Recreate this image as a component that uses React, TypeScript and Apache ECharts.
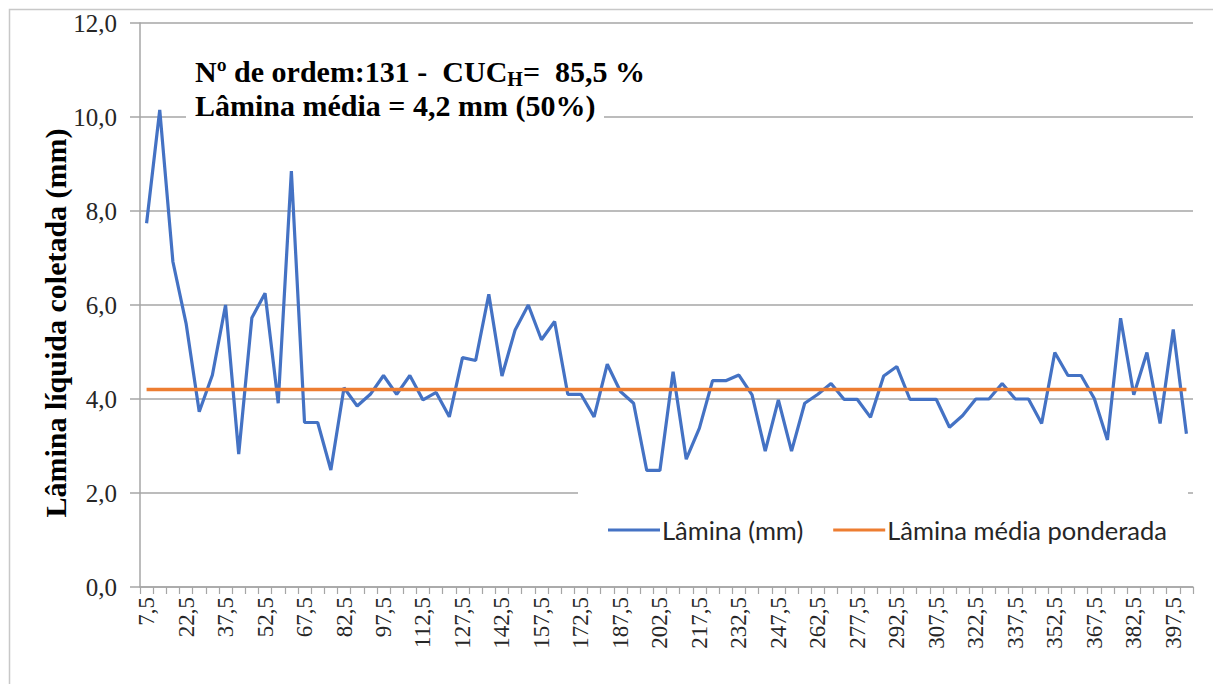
import React, { useEffect, useRef } from "react";
import * as echarts from "echarts";

const categories: string[] = [
  "7,5", "12,5", "17,5", "22,5", "27,5", "32,5", "37,5", "42,5", "47,5", "52,5",
  "57,5", "62,5", "67,5", "72,5", "77,5", "82,5", "87,5", "92,5", "97,5", "102,5",
  "107,5", "112,5", "117,5", "122,5", "127,5", "132,5", "137,5", "142,5", "147,5", "152,5",
  "157,5", "162,5", "167,5", "172,5", "177,5", "182,5", "187,5", "192,5", "197,5", "202,5",
  "207,5", "212,5", "217,5", "222,5", "227,5", "232,5", "237,5", "242,5", "247,5", "252,5",
  "257,5", "262,5", "267,5", "272,5", "277,5", "282,5", "287,5", "292,5", "297,5", "302,5",
  "307,5", "312,5", "317,5", "322,5", "327,5", "332,5", "337,5", "342,5", "347,5", "352,5",
  "357,5", "362,5", "367,5", "372,5", "377,5", "382,5", "387,5", "392,5", "397,5", "402,5",
];

const lamina: number[] = [
  7.74, 10.15, 6.92, 5.61, 3.73, 4.51, 6.0, 2.83, 5.73, 6.25,
  3.91, 8.85, 3.5, 3.5, 2.49, 4.24, 3.85, 4.1, 4.5, 4.1,
  4.5, 3.98, 4.14, 3.62, 4.88, 4.82, 6.23, 4.49, 5.47, 6.0,
  5.26, 5.65, 4.1, 4.1, 3.62, 4.74, 4.16, 3.91, 2.48, 2.48,
  4.58, 2.72, 3.38, 4.39, 4.39, 4.51, 4.09, 2.89, 3.98, 2.89,
  3.91, 4.1, 4.33, 3.99, 3.99, 3.61, 4.49, 4.69, 3.99, 3.99,
  3.99, 3.4, 3.65, 4.0, 4.0, 4.33, 4.0, 4.0, 3.48, 4.99,
  4.5, 4.5, 4.01, 3.13, 5.72, 4.09, 4.99, 3.48, 5.48, 3.26,
];

const laminaMedia = 4.2;
const mediaPonderada: number[] = categories.map(() => laminaMedia);

const yTicks = { min: 0, max: 12, interval: 2 };

export default function App() {
  const ref = useRef<HTMLDivElement>(null);

  useEffect(() => {
    document.body.style.margin = "0";
    if (!ref.current) return;
    const chart = echarts.init(ref.current, undefined, { renderer: "svg" });
    const serif = "Liberation Serif";
    const gridColor = "#a6a6a6";
    chart.setOption({
      animation: false,
      backgroundColor: "#ffffff",
      grid: { left: 140, right: 20, top: 23, bottom: 97, containLabel: false },
      legend: {
        left: 603,
        top: 512,
        itemWidth: 52,
        itemHeight: 3,
        itemGap: 30,
        icon: "rect",
        textStyle: { fontFamily: "Lato", fontSize: 25.5, color: "#262626", padding: [0, 0, 0, -3] },
        data: ["Lâmina (mm)", "Lâmina média ponderada"],
      },
      xAxis: {
        type: "category",
        data: categories,
        boundaryGap: true,
        axisLine: { lineStyle: { color: gridColor, width: 1.5 } },
        axisTick: { show: true, interval: 0, length: 7, lineStyle: { color: gridColor, width: 1.2 } },
        axisLabel: {
          interval: 2,
          rotate: 90,
          margin: 10,
          fontFamily: serif,
          fontSize: 23,
          color: "#262626",
        },
        splitLine: { show: false },
      },
      yAxis: {
        type: "value",
        min: yTicks.min,
        max: yTicks.max,
        interval: yTicks.interval,
        axisLine: { show: true, lineStyle: { color: gridColor, width: 1.5 } },
        axisTick: { show: true, length: 10, lineStyle: { color: gridColor, width: 1.5 } },
        axisLabel: {
          margin: 23,
          fontFamily: serif,
          fontSize: 25,
          color: "#262626",
          formatter: (v: number) => v.toFixed(1).replace(".", ","),
        },
        splitLine: { show: true, lineStyle: { color: gridColor, width: 1.5 } },
      },
      graphic: [
        {
          type: "rect",
          left: 7,
          top: 7,
          shape: { x: 0, y: 0, width: 1220, height: 700 },
          style: { fill: "none", stroke: "#c8c8c8", lineWidth: 1.5 },
          silent: true,
          z: 0,
        },
        {
          type: "rect",
          shape: { x: 186, y: 40, width: 418, height: 90 },
          style: { fill: "#ffffff" },
          silent: true,
          z: 1,
        },
        {
          type: "rect",
          shape: { x: 578, y: 478, width: 610, height: 95 },
          style: { fill: "#ffffff" },
          silent: true,
          z: 1,
        },
        {
          type: "text",
          x: 195,
          y: 54,
          z: 3,
          style: {
            text: "{a|Nº de ordem:131 -  CUC}{sub|H}{a|=  85,5 %}\n{a|Lâmina média = 4,2 mm (50%)}",
            fontFamily: serif,
            fontWeight: "bold",
            fontSize: 30,
            fill: "#000000",
            rich: {
              a: { fontFamily: serif, fontWeight: "bold", fontSize: 30, lineHeight: 34, fill: "#000" },
              sub: { fontFamily: serif, fontWeight: "bold", fontSize: 20, lineHeight: 34, padding: [16, 0, 0, 0], fill: "#000" },
            },
          },
        },
        {
          type: "text",
          x: 55,
          y: 323,
          rotation: Math.PI / 2,
          z: 3,
          style: {
            text: "Lâmina líquida coletada (mm)",
            fontFamily: serif,
            fontWeight: "bold",
            fontSize: 30,
            fill: "#000000",
            align: "center",
            verticalAlign: "middle",
          },
        },
      ],
      series: [
        {
          name: "Lâmina (mm)",
          type: "line",
          data: lamina,
          showSymbol: false,
          symbol: "none",
          lineStyle: { color: "#4472C4", width: 3.2 },
          itemStyle: { color: "#4472C4" },
          z: 3,
        },
        {
          name: "Lâmina média ponderada",
          type: "line",
          data: mediaPonderada,
          showSymbol: false,
          symbol: "none",
          lineStyle: { color: "#ED7D31", width: 3.5 },
          itemStyle: { color: "#ED7D31" },
          z: 3,
        },
      ],
    });
    return () => chart.dispose();
  }, []);

  return <div ref={ref} style={{ width: 1213, height: 684 }} />;
}
